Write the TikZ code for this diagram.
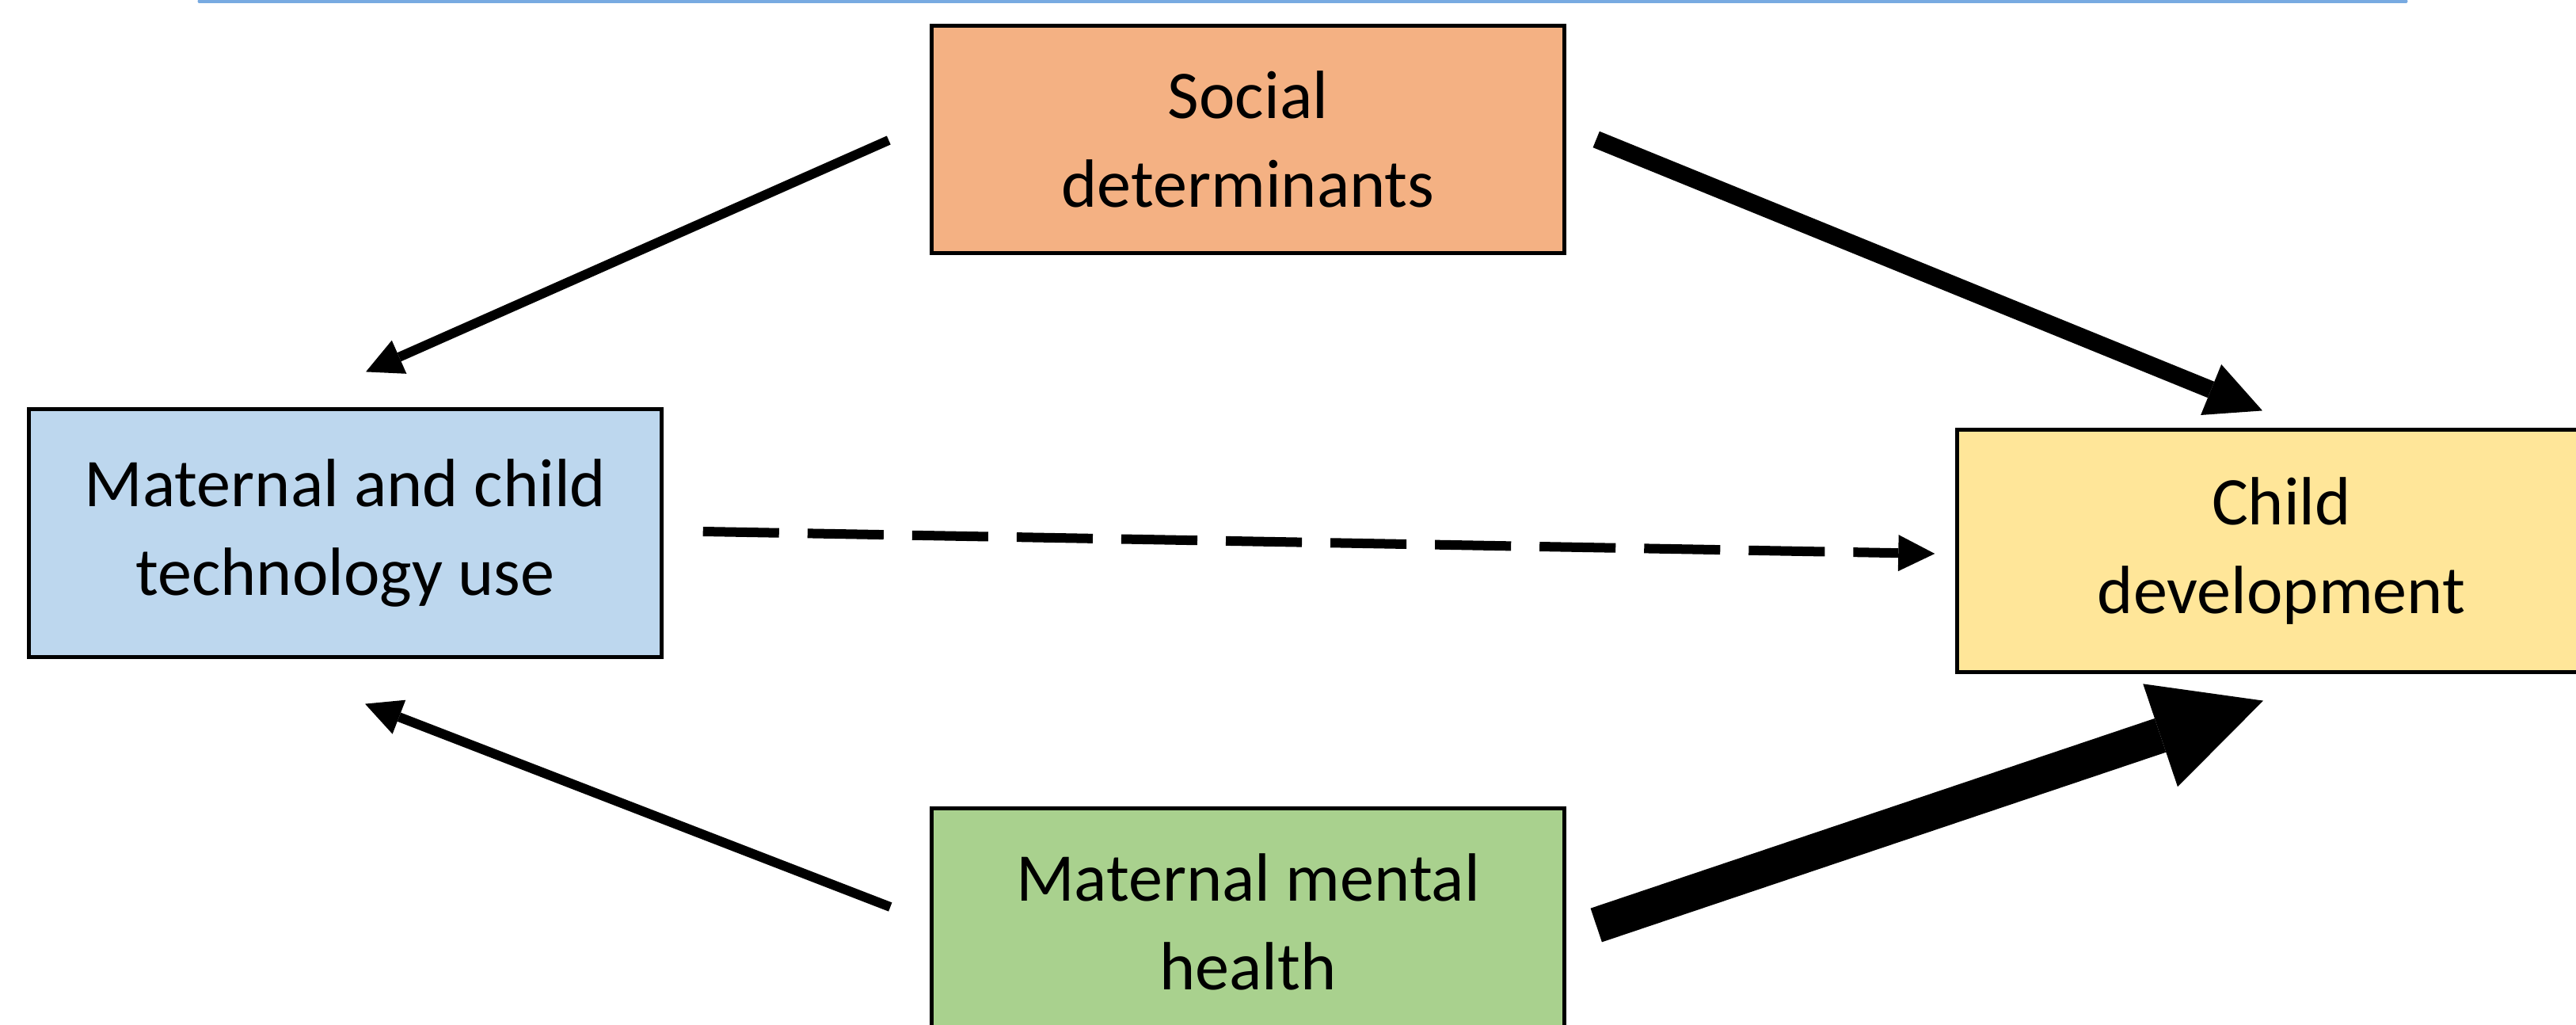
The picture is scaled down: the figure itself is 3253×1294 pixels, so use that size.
\documentclass[tikz,border=0pt]{standalone}
\usepackage{fontspec}
\setmainfont{Carlito}
\usetikzlibrary{arrows.meta,calc}
\definecolor{socc}{HTML}{F4B183}
\definecolor{techc}{HTML}{BDD7EE}
\definecolor{childc}{HTML}{FFE699}
\definecolor{mentc}{HTML}{A9D18E}
\definecolor{topblue}{RGB}{120,170,225}
\begin{document}
\begin{tikzpicture}[x=0.01cm,y=-0.01cm,
  box/.style={draw=black, line width=0.05cm, align=center, inner sep=0pt,
    font=\fontsize{24.5}{32}\selectfont},
  arrthin/.style={line width=0.12cm, -{Triangle[length=0.46cm,width=0.46cm,line width=0pt]}},
  arrmid/.style={line width=0.22cm, -{Triangle[length=0.70cm,width=0.69cm,line width=0pt]}},
  arrbig/.style={line width=0.45cm, -{Triangle[length=1.37cm,width=1.37cm,line width=0pt]}},
  arrdash/.style={line width=0.12cm, dash pattern=on 0.96cm off 0.36cm,
    -{Triangle[length=0.46cm,width=0.46cm,line width=0pt]}}]
\useasboundingbox (0,0) rectangle (3253,1294);
\clip (0,0) rectangle (3253,1294);
\fill[white] (0,0) rectangle (3253,1294);
\draw[topblue, line width=0.05cm, line cap=round] (252,2) -- (3038,2);

\node[box, fill=socc, minimum width=7.98cm, minimum height=2.86cm] (soc) at (1576,176) {Social\\determinants};
\node[box, fill=techc, minimum width=7.98cm, minimum height=3.12cm] (tech) at (436,673) {Maternal and child\\technology use};
\node[box, fill=childc, minimum width=8.18cm, minimum height=3.05cm] (child) at (2881,695.5) {Child\\development};
\node[box, fill=mentc, minimum width=7.98cm, minimum height=2.86cm] (ment) at (1576,1164) {Maternal mental\\health};

\draw[arrthin] ($(soc.west)+(-52,1)$) -- ($(tech.north)+(26,-45)$);
\draw[arrmid] ($(soc.east)+(38,0)$) -- ($(child.north)+(-24,-22)$);
\draw[arrdash] ($(tech.east)+(50,-2)$) -- ($(child.west)+(-26,3.5)$);
\draw[arrthin] ($(ment.west)+(-50,-19)$) -- ($(tech.south)+(25,57)$);
\draw[arrbig] ($(ment.east)+(38,4)$) -- ($(child.south)+(-23,34)$);
\end{tikzpicture}
\end{document}
